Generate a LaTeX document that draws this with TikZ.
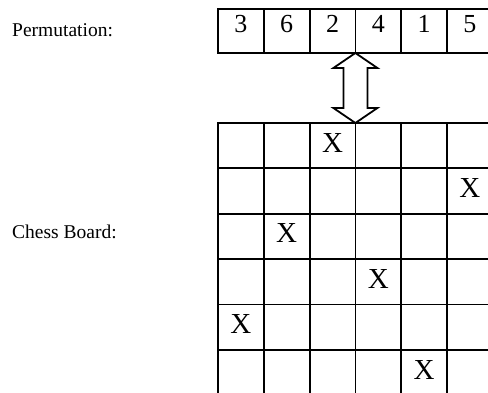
\documentclass[tikz,border=0pt]{standalone}
\usepackage{fontspec}
\setmainfont{Liberation Serif}
\usetikzlibrary{calc}
\begin{document}
\begin{tikzpicture}[x=1pt,y=-1pt,
  permcell/.style={draw,line width=1.8pt,minimum width=45.8pt,minimum height=44pt,inner sep=0pt,outer sep=0pt,font=\fontsize{26}{26}\selectfont,text height=17.5pt,text depth=14.5pt},
  boardcell/.style={draw,line width=1.8pt,minimum width=45.8pt,minimum height=45.4pt,inner sep=0pt,outer sep=0pt,font=\fontsize{29}{29}\selectfont,text height=20pt,text depth=7pt},
  lbl/.style={anchor=base west,inner sep=0pt,font=\fontsize{19.5}{19.5}\selectfont},
  bigarrow/.style={line width=1.8pt,fill=white,line join=miter}]
\useasboundingbox (0,0) rectangle (488,393);
\clip (0,0) rectangle (488,393);
\node[lbl] (permlbl) at (12,37) {Permutation:};
\node[lbl] (boardlbl) at (12,239) {Chess Board:};
\foreach \i/\d in {1/3,2/6,3/2,4/4,5/1,6/5}
  \node[permcell] (p\i) at ({218+45.8*(\i-0.5)},31) {\d};
\foreach \r/\xc in {1/3,2/6,3/2,4/4,5/1,6/5}{
  \foreach \c in {1,...,6}{
    \node[boardcell] (b\r\c) at ({218+45.8*(\c-0.5)},{123+45.4*(\r-0.5)}) {\ifnum\c=\xc X\fi};
  }
}
\coordinate (top) at (p3.south east);
\coordinate (bot) at (b13.north east);
\draw[bigarrow] (top) -- ++(22,15) -- ++(-10,0) -- ($(bot)+(12,-15)$) -- ++(10,0) -- (bot)
  -- ++(-22,-15) -- ++(10,0) -- ($(top)+(-12,15)$) -- ++(-10,0) -- cycle;
\end{tikzpicture}
\end{document}
